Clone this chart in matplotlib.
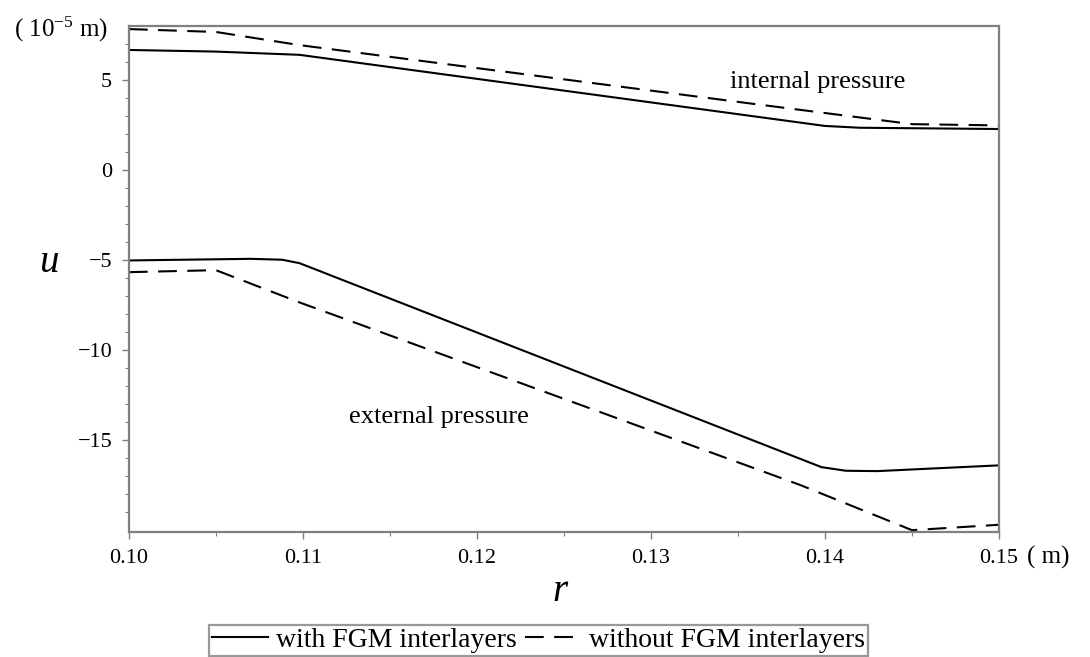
import matplotlib
matplotlib.use('Agg')
import matplotlib.pyplot as plt

plt.rcParams['font.family'] = 'Liberation Serif'
plt.rcParams['mathtext.fontset'] = 'custom'
plt.rcParams['mathtext.rm'] = 'Liberation Serif'
plt.rcParams['mathtext.it'] = 'Liberation Serif:italic'

# internal pressure
r_in_with = [0.10, 0.105, 0.1098, 0.14, 0.142, 0.15]
u_in_with = [6.67, 6.58, 6.4, 2.45, 2.35, 2.28]
r_in_without = [0.10, 0.105, 0.1098, 0.1357, 0.145, 0.15]
u_in_without = [7.83, 7.67, 6.94, 3.7, 2.55, 2.48]

# external pressure
r_ex_with = [0.10, 0.107, 0.1088, 0.1098, 0.1398, 0.1412, 0.143, 0.15]
u_ex_with = [-5.02, -4.93, -4.98, -5.17, -16.5, -16.7, -16.72, -16.4]
r_ex_without = [0.10, 0.105, 0.1098, 0.1386, 0.145, 0.15]
u_ex_without = [-5.67, -5.56, -7.35, -17.5, -20.0, -19.7]

gray = '#7f7f7f'
dash = (0, (9, 5))

fig = plt.figure(figsize=(10.9, 6.57), dpi=100)
ax = fig.add_axes([0.1183, 0.1903, 0.7982, 0.7701])

ax.plot(r_in_with, u_in_with, color='black', lw=1.5, label='with FGM interlayers')
ax.plot(r_in_without, u_in_without, color='black', lw=1.5, linestyle=dash, label='without FGM interlayers')
ax.plot(r_ex_with, u_ex_with, color='black', lw=1.5)
ax.plot(r_ex_without, u_ex_without, color='black', lw=1.5, linestyle=dash)

ax.set_xlim(0.10, 0.15)
ax.set_ylim(-20.1, 8.0)
ax.set_xticks([0.10, 0.11, 0.12, 0.13, 0.14, 0.15])
ax.set_xticklabels(['0.10', '0.11', '0.12', '0.13', '0.14', '0.15'])
ax.set_xticks([0.105, 0.115, 0.125, 0.135, 0.145], minor=True)
ax.set_yticks([5, 0, -5, -10, -15])
ax.set_yticklabels(['5', '0', '\u22125', '\u221210', '\u221215'])
ax.set_yticks([v for v in range(-20, 8) if v % 5 != 0], minor=True)

for s in ax.spines.values():
    s.set_color(gray)
    s.set_linewidth(1.6)
ax.tick_params(which='major', length=5, width=1, color=gray, labelsize=16, pad=7)
ax.tick_params(which='minor', length=3, width=0.8, color=gray)

ax.text(0.1396, 4.89, 'internal pressure', fontsize=19, ha='center', va='center')
ax.text(0.1178, -13.7, 'external pressure', fontsize=19, ha='center', va='center')

fig.text(0.045, 0.601, 'u', fontsize=28, style='italic', ha='center', va='center')
fig.text(0.514, 0.099, 'r', fontsize=28, style='italic', ha='center', va='center')
fig.text(0.056, 0.955, '( 10$^{-5}$ m)', fontsize=18, ha='center', va='center')
fig.text(0.962, 0.151, '( m)', fontsize=18, ha='center', va='center')

leg = fig.legend(loc='lower center', bbox_to_anchor=(0.494, 0.0), ncol=2, fontsize=20,
                 frameon=True, fancybox=False, handlelength=2.0, handletextpad=0.3,
                 columnspacing=0.3, borderpad=0.1, borderaxespad=0.05)
leg.get_frame().set_edgecolor(gray)
leg.get_frame().set_linewidth(1.6)

fig.savefig('out.png', dpi=100)
